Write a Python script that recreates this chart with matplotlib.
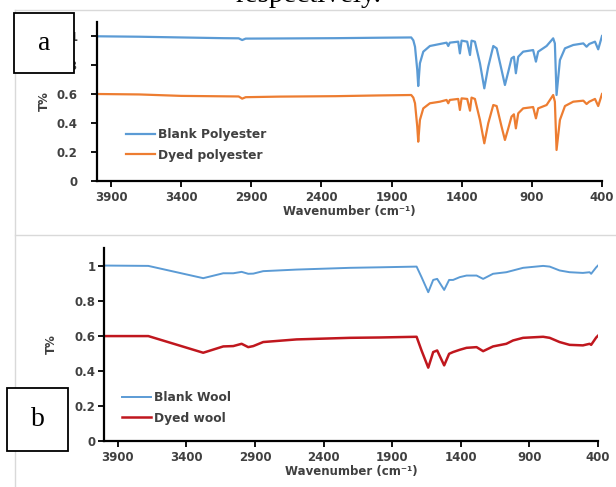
import matplotlib
matplotlib.use("Agg")
import matplotlib.pyplot as plt
from matplotlib.lines import Line2D
from matplotlib.patches import Rectangle

# ---------------- data ----------------
poly_wn = [4000, 3700, 3400, 3100, 2990, 2965, 2940, 2700, 2300, 2000, 1760, 1745, 1733, 1717,
           1710, 1698, 1674, 1627, 1555, 1508, 1496, 1485, 1425, 1413, 1401, 1361, 1341, 1330,
           1306, 1270, 1239, 1211, 1175, 1151, 1116, 1092, 1068, 1045, 1028, 1014, 997, 962,
           891, 871, 855, 795, 748, 736, 724, 700, 664, 605, 533, 510, 491, 450, 427, 400]
blank_poly = [0.998, 0.995, 0.990, 0.985, 0.984, 0.972, 0.982, 0.983, 0.985, 0.988, 0.990, 0.970,
              0.926, 0.766, 0.655, 0.812, 0.892, 0.931, 0.945, 0.954, 0.931, 0.954, 0.961, 0.880,
              0.968, 0.961, 0.869, 0.968, 0.961, 0.812, 0.639, 0.788, 0.931, 0.915, 0.766, 0.662,
              0.754, 0.846, 0.857, 0.743, 0.857, 0.892, 0.903, 0.823, 0.892, 0.931, 0.984, 0.949,
              0.593, 0.834, 0.915, 0.938, 0.949, 0.926, 0.945, 0.961, 0.908, 1.000]
dyed_poly = [0.600, 0.597, 0.587, 0.584, 0.583, 0.568, 0.578, 0.582, 0.585, 0.590, 0.593, 0.575,
             0.536, 0.375, 0.271, 0.421, 0.501, 0.536, 0.547, 0.559, 0.536, 0.559, 0.566, 0.490,
             0.570, 0.566, 0.485, 0.575, 0.566, 0.421, 0.260, 0.398, 0.524, 0.517, 0.375, 0.283,
             0.363, 0.444, 0.460, 0.363, 0.467, 0.501, 0.510, 0.432, 0.501, 0.524, 0.593, 0.547,
             0.214, 0.421, 0.517, 0.547, 0.554, 0.531, 0.547, 0.566, 0.517, 0.600]

wool_wn = [4000, 3677, 3277, 3131, 3058, 2997, 2949, 2912, 2840, 2597, 2208, 1990, 1722, 1686,
           1637, 1601, 1572, 1521, 1485, 1456, 1407, 1358, 1285, 1237, 1165, 1068, 1019, 946,
           800, 752, 680, 607, 510, 461, 450, 413, 400]
blank_wool = [1.000, 0.998, 0.928, 0.956, 0.956, 0.964, 0.953, 0.954, 0.968, 0.977, 0.987, 0.990,
              0.994, 0.934, 0.848, 0.918, 0.924, 0.861, 0.918, 0.918, 0.934, 0.943, 0.943, 0.924,
              0.953, 0.962, 0.972, 0.987, 0.998, 0.994, 0.972, 0.962, 0.958, 0.962, 0.953, 0.990,
              1.000]
dyed_wool = [0.598, 0.598, 0.503, 0.539, 0.541, 0.554, 0.535, 0.541, 0.564, 0.579, 0.588, 0.590,
             0.594, 0.516, 0.418, 0.507, 0.516, 0.431, 0.497, 0.507, 0.520, 0.531, 0.535, 0.512,
             0.539, 0.554, 0.573, 0.588, 0.594, 0.588, 0.564, 0.548, 0.545, 0.554, 0.548, 0.590,
             0.600]

x_ticks = [3900, 3400, 2900, 2400, 1900, 1400, 900, 400]
y_ticks = [0, 0.2, 0.4, 0.6, 0.8, 1]
y_ticklabels = ["0", "0.2", "0.4", "0.6", "0.8", "1"]

# ---------------- figure ----------------
W, H = 616, 487
fig = plt.figure(figsize=(W / 100, H / 100), dpi=100)
fig.patch.set_facecolor("white")


def fx(px):
    return px / W


def fy(py):
    return 1 - py / H


def add_axes_px(x0, y0, x1, y1):
    return fig.add_axes([fx(x0), fy(y1), fx(x1) - fx(x0), fy(y0) - fy(y1)])


TICKC = "#404040"
FONT = "DejaVu Sans"


def style(ax, pad_y):
    ax.set_xlim(4000, 400)
    ax.set_ylim(0, 1.1)
    for s in ["top", "right"]:
        ax.spines[s].set_visible(False)
    for s in ["left", "bottom"]:
        ax.spines[s].set_linewidth(1.6)
        ax.spines[s].set_color("black")
    ax.set_xticks(x_ticks)
    ax.set_xticklabels([str(t) for t in x_ticks])
    ax.set_yticks(y_ticks)
    ax.set_yticklabels(y_ticklabels)
    ax.tick_params(axis="both", direction="out", length=4, width=1.3, color="black",
                   labelcolor=TICKC, labelsize=8.5)
    ax.tick_params(axis="y", pad=pad_y)
    ax.tick_params(axis="x", pad=3)
    for lab in ax.get_xticklabels() + ax.get_yticklabels():
        lab.set_fontweight("bold")
        lab.set_family(FONT)
    ax.set_xlabel("Wavenumber (cm\u207b\u00b9)", fontsize=8.5, fontweight="bold",
                  color=TICKC, family=FONT, labelpad=1)
    ax.set_ylabel("T%", fontsize=8.5, fontweight="bold", color=TICKC, family=FONT)


LEG = dict(frameon=False, borderpad=0, handlelength=2.4, handletextpad=0.25,
           labelspacing=0.62, prop={"family": FONT, "weight": "bold", "size": 8.8})

# top panel (a)
ax1 = add_axes_px(97, 21.5, 602, 181)
ax1.plot(poly_wn, blank_poly, color="#5B9BD5", lw=1.6, label="Blank Polyester")
ax1.plot(poly_wn, dyed_poly, color="#ED7D31", lw=1.6, label="Dyed polyester")
style(ax1, 10)
ax1.yaxis.set_label_coords((51 - 97) / (602 - 97), 0.5)
leg1 = ax1.legend(loc="upper left", bbox_to_anchor=(fx(120), fy(122)),
                  bbox_transform=fig.transFigure, **LEG)
for t in leg1.get_texts():
    t.set_color(TICKC)

# bottom panel (b)
ax2 = add_axes_px(104, 248, 598, 441)
ax2.plot(wool_wn, blank_wool, color="#5B9BD5", lw=1.4, label="Blank Wool")
ax2.plot(wool_wn, dyed_wool, color="#C0171E", lw=1.8, label="Dyed wool")
style(ax2, 2)
ax2.yaxis.set_label_coords((58 - 104) / (598 - 104), 0.5)
leg2 = ax2.legend(loc="upper left", bbox_to_anchor=(fx(116), fy(385)),
                  bbox_transform=fig.transFigure, **LEG)
for t in leg2.get_texts():
    t.set_color(TICKC)

# page decorations
GRAY = "#d9d9d9"
fig.add_artist(Line2D([fx(15), fx(15)], [fy(10), 0], transform=fig.transFigure, color=GRAY, lw=1))
fig.add_artist(Line2D([fx(15), 1], [fy(10), fy(10)], transform=fig.transFigure, color=GRAY, lw=1))
fig.add_artist(Line2D([fx(15), 1], [fy(235), fy(235)], transform=fig.transFigure, color=GRAY, lw=1))

fig.text(fx(308), fy(2), "respectively.", family="Liberation Serif", fontsize=21,
         ha="center", va="baseline", color="black")

for (x0, y0, x1, y1, lab) in [(14, 13, 74, 73, "a"), (7, 388, 68, 451, "b")]:
    r = Rectangle((fx(x0), fy(y1)), fx(x1) - fx(x0), fy(y0) - fy(y1), transform=fig.transFigure,
                  facecolor="white", edgecolor="black", lw=1.3, zorder=10)
    fig.add_artist(r)
    fig.text(fx((x0 + x1) / 2), fy((y0 + y1) / 2), lab, family="Liberation Serif", fontsize=20,
             ha="center", va="center", zorder=11)

fig.savefig("out.png", dpi=100)
